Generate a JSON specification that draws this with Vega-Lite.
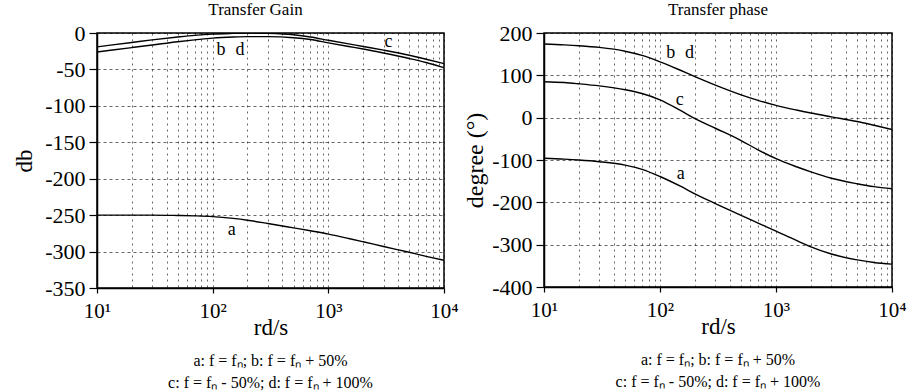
{
  "$schema": "https://vega.github.io/schema/vega-lite/v6.json",
  "padding": {"left": 12, "top": 0, "right": 5, "bottom": 0},
  "background": "white",
  "config": {
    "font": "Liberation Serif",
    "view": {"stroke": "black", "strokeWidth": 1.5},
    "axis": {
      "labelFont": "Liberation Serif", "labelFontSize": 22, "labelColor": "black",
      "titleFont": "Liberation Serif", "titleFontSize": 23, "titleFontWeight": "normal", "titleColor": "black",
      "domainColor": "black", "domainWidth": 1.5, "tickColor": "black", "tickSize": 8, "tickWidth": 1.2,
      "labelPadding": 4, "titlePadding": 4, "labelOverlap": false, "labelSeparation": 0,
      "gridColor": "black", "gridOpacity": 0.75, "gridWidth": 0.8
    },
    "axisX": {"labelFontSize": 21, "tickSize": 5, "labelPadding": 7, "titlePadding": -5},
    "axisY": {"labelOverlap": false},
    "title": {"font": "Liberation Serif", "fontSize": 17, "fontWeight": "normal", "color": "black", "offset": 3}
  },
  "datasets": {
    "gain": [
      {"w": 10, "v": -250, "s": "a"}, {"w": 20, "v": -250, "s": "a"}, {"w": 30, "v": -250, "s": "a"}, {"w": 50, "v": -250.5, "s": "a"}, {"w": 70, "v": -251, "s": "a"}, {"w": 100, "v": -252, "s": "a"}, {"w": 150, "v": -254.5, "s": "a"}, {"w": 200, "v": -257, "s": "a"}, {"w": 300, "v": -261.5, "s": "a"}, {"w": 500, "v": -267.5, "s": "a"}, {"w": 700, "v": -271.5, "s": "a"}, {"w": 1000, "v": -276, "s": "a"}, {"w": 1500, "v": -282, "s": "a"}, {"w": 2000, "v": -286.5, "s": "a"}, {"w": 3000, "v": -293, "s": "a"}, {"w": 5000, "v": -301, "s": "a"}, {"w": 7000, "v": -306.5, "s": "a"}, {"w": 10000, "v": -312, "s": "a"},
      {"w": 10, "v": -26, "s": "bd"}, {"w": 20, "v": -20, "s": "bd"}, {"w": 30, "v": -16.5, "s": "bd"}, {"w": 50, "v": -12, "s": "bd"}, {"w": 70, "v": -9.5, "s": "bd"}, {"w": 100, "v": -7, "s": "bd"}, {"w": 150, "v": -5.5, "s": "bd"}, {"w": 200, "v": -5, "s": "bd"}, {"w": 300, "v": -5, "s": "bd"}, {"w": 500, "v": -6.5, "s": "bd"}, {"w": 700, "v": -9, "s": "bd"}, {"w": 1000, "v": -13.5, "s": "bd"}, {"w": 1500, "v": -18.5, "s": "bd"}, {"w": 2000, "v": -22, "s": "bd"}, {"w": 3000, "v": -27.5, "s": "bd"}, {"w": 5000, "v": -35, "s": "bd"}, {"w": 7000, "v": -40.5, "s": "bd"}, {"w": 10000, "v": -47.5, "s": "bd"},
      {"w": 10, "v": -19, "s": "c"}, {"w": 20, "v": -13, "s": "c"}, {"w": 30, "v": -9.5, "s": "c"}, {"w": 50, "v": -5.5, "s": "c"}, {"w": 70, "v": -3.2, "s": "c"}, {"w": 100, "v": -1.5, "s": "c"}, {"w": 150, "v": -0.5, "s": "c"}, {"w": 200, "v": 0, "s": "c"}, {"w": 300, "v": -0.5, "s": "c"}, {"w": 500, "v": -2.5, "s": "c"}, {"w": 700, "v": -5.5, "s": "c"}, {"w": 1000, "v": -10, "s": "c"}, {"w": 1500, "v": -15, "s": "c"}, {"w": 2000, "v": -18.5, "s": "c"}, {"w": 3000, "v": -23.5, "s": "c"}, {"w": 5000, "v": -30.5, "s": "c"}, {"w": 7000, "v": -36, "s": "c"}, {"w": 10000, "v": -42, "s": "c"}
    ],
    "gainLabels": [
      {"w": 146, "v": -270.5, "t": "a"}, {"w": 118, "v": -24, "t": "b"}, {"w": 172, "v": -24, "t": "d"}, {"w": 3310, "v": -13, "t": "c"}
    ],
    "phase": [
      {"w": 10, "v": -96, "s": "a"}, {"w": 15, "v": -98, "s": "a"}, {"w": 20, "v": -100, "s": "a"}, {"w": 30, "v": -104, "s": "a"}, {"w": 50, "v": -112, "s": "a"}, {"w": 70, "v": -122, "s": "a"}, {"w": 100, "v": -139, "s": "a"}, {"w": 150, "v": -162, "s": "a"}, {"w": 200, "v": -180, "s": "a"}, {"w": 300, "v": -203, "s": "a"}, {"w": 500, "v": -231, "s": "a"}, {"w": 700, "v": -249, "s": "a"}, {"w": 1000, "v": -268, "s": "a"}, {"w": 1500, "v": -290, "s": "a"}, {"w": 2000, "v": -305, "s": "a"}, {"w": 3000, "v": -322, "s": "a"}, {"w": 5000, "v": -336, "s": "a"}, {"w": 7000, "v": -342, "s": "a"}, {"w": 10000, "v": -346, "s": "a"},
      {"w": 10, "v": 174, "s": "bd"}, {"w": 15, "v": 172, "s": "bd"}, {"w": 20, "v": 170, "s": "bd"}, {"w": 30, "v": 166, "s": "bd"}, {"w": 50, "v": 157, "s": "bd"}, {"w": 70, "v": 147, "s": "bd"}, {"w": 100, "v": 132, "s": "bd"}, {"w": 150, "v": 112, "s": "bd"}, {"w": 200, "v": 97, "s": "bd"}, {"w": 300, "v": 77, "s": "bd"}, {"w": 500, "v": 54, "s": "bd"}, {"w": 700, "v": 41, "s": "bd"}, {"w": 1000, "v": 29, "s": "bd"}, {"w": 1500, "v": 18, "s": "bd"}, {"w": 2000, "v": 11, "s": "bd"}, {"w": 3000, "v": 2, "s": "bd"}, {"w": 5000, "v": -9, "s": "bd"}, {"w": 7000, "v": -18, "s": "bd"}, {"w": 10000, "v": -28, "s": "bd"},
      {"w": 10, "v": 85, "s": "c"}, {"w": 15, "v": 83, "s": "c"}, {"w": 20, "v": 80, "s": "c"}, {"w": 30, "v": 75, "s": "c"}, {"w": 50, "v": 66, "s": "c"}, {"w": 70, "v": 57, "s": "c"}, {"w": 100, "v": 42, "s": "c"}, {"w": 150, "v": 17, "s": "c"}, {"w": 200, "v": -2, "s": "c"}, {"w": 300, "v": -25, "s": "c"}, {"w": 500, "v": -54, "s": "c"}, {"w": 700, "v": -76, "s": "c"}, {"w": 1000, "v": -97, "s": "c"}, {"w": 1500, "v": -116, "s": "c"}, {"w": 2000, "v": -128, "s": "c"}, {"w": 3000, "v": -143, "s": "c"}, {"w": 5000, "v": -156, "s": "c"}, {"w": 7000, "v": -163, "s": "c"}, {"w": 10000, "v": -168, "s": "c"}
    ],
    "phaseLabels": [
      {"w": 124, "v": 152, "t": "b"}, {"w": 180, "v": 152, "t": "d"}, {"w": 148, "v": 42, "t": "c"}, {"w": 151, "v": -133, "t": "a"}
    ],
    "caption": [
      {"line": 1, "t": "a: f = fₙ; b: f = fₙ + 50%"},
      {"line": 2, "t": "c: f = fₙ - 50%; d: f = fₙ + 100%"}
    ]
  },
  "hconcat": [
    {
      "spacing": 10,
      "vconcat": [
        {
          "title": {"text": "Transfer Gain", "dx": -15},
          "width": 347, "height": 255,
          "encoding": {
            "x": {"field": "w", "type": "quantitative",
              "scale": {"type": "log", "domain": [10, 10000]},
              "axis": {"title": "rd/s", "values": [10,20,30,40,50,60,70,80,90,100,200,300,400,500,600,700,800,900,1000,2000,3000,4000,5000,6000,7000,8000,9000,10000],
                "labelExpr": "datum.value == 10 ? '10¹' : datum.value == 100 ? '10²' : datum.value == 1000 ? '10³' : datum.value == 10000 ? '10⁴' : ''",
                "tickOpacity": {"condition": {"test": "datum.value == 10 || datum.value == 100 || datum.value == 1000 || datum.value == 10000", "value": 1}, "value": 0},
                "gridDash": [2, 4], "labelFlush": false, "labelOverlap": false}},
            "y": {"field": "v", "type": "quantitative",
              "scale": {"domain": [-350, 0], "nice": false},
              "axis": {"title": "db", "titlePadding": 8, "values": [-350,-300,-250,-200,-150,-100,-50,0], "gridDash": [3, 3], "labelOverlap": false, "labelSeparation": 0,
                "labelExpr": "datum.value < 0 ? '-' + abs(datum.value) : '' + datum.value"}}
          },
          "layer": [
            {
              "data": {"name": "gain"},
              "mark": {"type": "line", "color": "black", "strokeWidth": 1.4, "interpolate": "monotone", "clip": true},
              "encoding": {"detail": {"field": "s"}}
            },
            {
              "data": {"name": "gainLabels"},
              "mark": {"type": "text", "fontSize": 18, "font": "Liberation Serif", "color": "black"},
              "encoding": {"text": {"field": "t"}}
            }
          ]
        },
        {
          "width": 347, "height": 44,
          "view": {"stroke": null},
          "data": {"name": "caption"},
          "mark": {"type": "text", "fontSize": 16, "font": "Liberation Serif", "color": "black"},
          "encoding": {
            "y": {"field": "line", "type": "ordinal", "axis": null},
            "text": {"field": "t"}
          }
        }
      ]
    },
    {
      "spacing": 10,
      "vconcat": [
        {
          "title": {"text": "Transfer phase"},
          "width": 348, "height": 254,
          "encoding": {
            "x": {"field": "w", "type": "quantitative",
              "scale": {"type": "log", "domain": [10, 10000]},
              "axis": {"title": "rd/s", "values": [10,20,30,40,50,60,70,80,90,100,200,300,400,500,600,700,800,900,1000,2000,3000,4000,5000,6000,7000,8000,9000,10000],
                "labelExpr": "datum.value == 10 ? '10¹' : datum.value == 100 ? '10²' : datum.value == 1000 ? '10³' : datum.value == 10000 ? '10⁴' : ''",
                "tickOpacity": {"condition": {"test": "datum.value == 10 || datum.value == 100 || datum.value == 1000 || datum.value == 10000", "value": 1}, "value": 0},
                "gridDash": [2, 4], "labelFlush": false, "labelOverlap": false}},
            "y": {"field": "v", "type": "quantitative",
              "scale": {"domain": [-400, 200], "nice": false},
              "axis": {"title": "degree (°)", "titleFontSize": 24, "values": [-400,-300,-200,-100,0,100,200], "gridDash": [3, 3], "labelOverlap": false,
                "labelExpr": "datum.value < 0 ? '-' + abs(datum.value) : '' + datum.value"}}
          },
          "layer": [
            {
              "data": {"name": "phase"},
              "mark": {"type": "line", "color": "black", "strokeWidth": 1.4, "interpolate": "monotone", "clip": true},
              "encoding": {"detail": {"field": "s"}}
            },
            {
              "data": {"name": "phaseLabels"},
              "mark": {"type": "text", "fontSize": 18, "font": "Liberation Serif", "color": "black"},
              "encoding": {"text": {"field": "t"}}
            }
          ]
        },
        {
          "width": 348, "height": 44,
          "view": {"stroke": null},
          "data": {"name": "caption"},
          "mark": {"type": "text", "fontSize": 16, "font": "Liberation Serif", "color": "black"},
          "encoding": {
            "y": {"field": "line", "type": "ordinal", "axis": null},
            "text": {"field": "t"}
          }
        }
      ]
    }
  ],
  "spacing": 3
}
